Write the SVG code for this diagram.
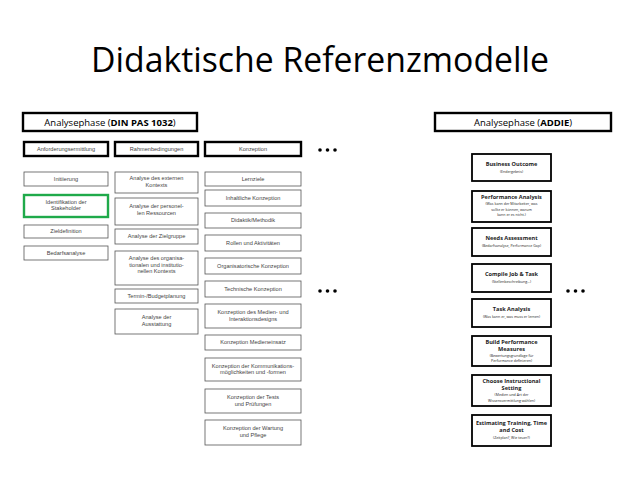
<svg xmlns="http://www.w3.org/2000/svg" width="640" height="480" viewBox="0 0 640 480">
<style>
.bg{fill:#fff}
.hdr{fill:#fff;stroke:#000;stroke-width:2.4}
.box{fill:#fff;stroke:#555;stroke-width:0.8}
.grn{fill:#fff;stroke:#1faa4a;stroke-width:2.4}
.abox{fill:#fff;stroke:#000;stroke-width:1.8}
.t{font-family:"Liberation Sans",Arial,sans-serif;font-size:5.6px;fill:#444;text-anchor:middle}
.h{font-family:"Open Sans","Liberation Sans",sans-serif;font-size:9.5px;fill:#000;text-anchor:middle}
.ab{font-family:"Open Sans","Liberation Sans",sans-serif;font-size:5.6px;font-weight:bold;fill:#222;text-anchor:middle}
.as{font-family:"Open Sans","Liberation Sans",sans-serif;font-size:3.6px;fill:#222;text-anchor:middle}
.dot{fill:#000}
</style>
<rect class="bg" x="0" y="0" width="640" height="480"/>
<text x="320" y="72" font-family="Open Sans, Liberation Sans, sans-serif" font-size="34" fill="#000" text-anchor="middle" textLength="458" lengthAdjust="spacingAndGlyphs">Didaktische Referenzmodelle</text>

<g id="hdr-din"><rect class="hdr" x="23" y="113" width="174" height="18"/><text class="h" x="110" y="125.5">Analysephase (<tspan font-weight="bold">DIN PAS 1032</tspan>)</text></g>
<g id="hdr-addie"><rect class="hdr" x="435" y="113" width="176" height="18"/><text class="h" x="523" y="125.5">Analysephase (<tspan font-weight="bold">ADDIE</tspan>)</text></g>

<g id="c1-head"><rect class="hdr" x="24" y="142" width="84" height="14"/><text class="t" x="66" y="151">Anforderungsermittlung</text></g>
<g id="c2-head"><rect class="hdr" x="115" y="142" width="83" height="14"/><text class="t" x="156.5" y="151">Rahmenbedingungen</text></g>
<g id="c3-head"><rect class="hdr" x="205" y="142" width="96" height="14"/><text class="t" x="253" y="151">Konzeption</text></g>

<g id="c1-1"><rect class="box" x="24" y="172" width="84" height="14"/><text class="t" x="66" y="180.5">Initiierung</text></g>
<g id="c1-2"><rect class="grn" x="24" y="195" width="84" height="22"/><text class="t" x="66" y="203.5">Identifikation der<tspan x="66" dy="6.5">Stakeholder</tspan></text></g>
<g id="c1-3"><rect class="box" x="24" y="225" width="84" height="13"/><text class="t" x="66" y="233">Zieldefinition</text></g>
<g id="c1-4"><rect class="box" x="24" y="246" width="84" height="14"/><text class="t" x="66" y="254.5">Bedarfsanalyse</text></g>

<g id="c2-1"><rect class="box" x="115" y="172" width="83" height="21"/><text class="t" x="156.5" y="180">Analyse des externen<tspan x="156.5" dy="6.5">Kontexts</tspan></text></g>
<g id="c2-2"><rect class="box" x="115" y="198" width="83" height="27"/><text class="t" x="156.5" y="208">Analyse der personel-<tspan x="156.5" dy="6.5">len Ressourcen</tspan></text></g>
<g id="c2-3"><rect class="box" x="115" y="229" width="83" height="15"/><text class="t" x="156.5" y="238">Analyse der Zielgruppe</text></g>
<g id="c2-4"><rect class="box" x="115" y="251" width="83" height="34"/><text class="t" x="156.5" y="260">Analyse des organisa-<tspan x="156.5" dy="6.5">tionalen und institutio-</tspan><tspan x="156.5" dy="6.5">nellen Kontexts</tspan></text></g>
<g id="c2-5"><rect class="box" x="115" y="289" width="83" height="14"/><text class="t" x="156.5" y="297.5">Termin-/Budgetplanung</text></g>
<g id="c2-6"><rect class="box" x="115" y="309" width="83" height="25"/><text class="t" x="156.5" y="319">Analyse der<tspan x="156.5" dy="6.5">Ausstattung</tspan></text></g>

<g id="c3-1"><rect class="box" x="205" y="172" width="96" height="14"/><text class="t" x="253" y="180.5">Lernziele</text></g>
<g id="c3-2"><rect class="box" x="205" y="190" width="96" height="16"/><text class="t" x="253" y="199.5">Inhaltliche Konzeption</text></g>
<g id="c3-3"><rect class="box" x="205" y="213" width="96" height="15"/><text class="t" x="253" y="222">Didaktik/Methodik</text></g>
<g id="c3-4"><rect class="box" x="205" y="235" width="96" height="16"/><text class="t" x="253" y="244.5">Rollen und Aktivitäten</text></g>
<g id="c3-5"><rect class="box" x="205" y="258" width="96" height="16"/><text class="t" x="253" y="267.5">Organisatorische Konzeption</text></g>
<g id="c3-6"><rect class="box" x="205" y="281" width="96" height="16"/><text class="t" x="253" y="290.5">Technische Konzeption</text></g>
<g id="c3-7"><rect class="box" x="205" y="304" width="96" height="24"/><text class="t" x="253" y="314">Konzeption des Medien- und<tspan x="253" dy="6.5">Interaktionsdesigns</tspan></text></g>
<g id="c3-8"><rect class="box" x="205" y="335" width="96" height="15"/><text class="t" x="253" y="344">Konzeption Medieneinsatz</text></g>
<g id="c3-9"><rect class="box" x="205" y="358" width="96" height="23"/><text class="t" x="253" y="367.5">Konzeption der Kommunikations-<tspan x="253" dy="6.5">möglichkeiten und -formen</tspan></text></g>
<g id="c3-10"><rect class="box" x="205" y="389" width="96" height="24"/><text class="t" x="253" y="399">Konzeption der Tests<tspan x="253" dy="6.5">und Prüfungen</tspan></text></g>
<g id="c3-11"><rect class="box" x="205" y="420" width="96" height="25"/><text class="t" x="253" y="430">Konzeption der Wartung<tspan x="253" dy="6.5">und Pflege</tspan></text></g>

<g id="a1"><rect class="abox" x="472" y="154" width="79" height="27"/><text class="ab" x="511.5" y="166">Business Outcome</text><text class="as" x="511.5" y="173">(Endergebnis)</text></g>
<g id="a2"><rect class="abox" x="472" y="191" width="79" height="31"/><text class="ab" x="511.5" y="199">Performance Analysis</text><text class="as" x="511.5" y="205">(Was kann der Mitarbeiter, was</text><text class="as" x="511.5" y="210.5">sollte er können, warum</text><text class="as" x="511.5" y="216">kann er es nicht.)</text></g>
<g id="a3"><rect class="abox" x="472" y="228" width="79" height="28"/><text class="ab" x="511.5" y="240">Needs Assessment</text><text class="as" x="511.5" y="247">(Bedarfsanalyse, Performance Gap)</text></g>
<g id="a4"><rect class="abox" x="472" y="264" width="79" height="28"/><text class="ab" x="511.5" y="276">Compile Job &amp; Task</text><text class="as" x="511.5" y="283">(Stellenbeschreibung...)</text></g>
<g id="a5"><rect class="abox" x="472" y="299" width="79" height="28"/><text class="ab" x="511.5" y="311">Task Analysis</text><text class="as" x="511.5" y="318">(Was kann er, was muss er lernen)</text></g>
<g id="a6"><rect class="abox" x="472" y="336" width="79" height="30"/><text class="ab" x="511.5" y="343.5">Build Performance</text><text class="ab" x="511.5" y="350.5">Measures</text><text class="as" x="511.5" y="356.5">(Bewertungsgrundlage für</text><text class="as" x="511.5" y="361.5">Performance definieren)</text></g>
<g id="a7"><rect class="abox" x="472" y="375" width="79" height="31"/><text class="ab" x="511.5" y="383">Choose Instructional</text><text class="ab" x="511.5" y="390">Setting</text><text class="as" x="511.5" y="396">(Medien und Art der</text><text class="as" x="511.5" y="401.5">Wissensvermittlung wählen)</text></g>
<g id="a8"><rect class="abox" x="472" y="415" width="79" height="31"/><text class="ab" x="511.5" y="425">Estimating Training, Time</text><text class="ab" x="511.5" y="432">and Cost</text><text class="as" x="511.5" y="438.5">(Zeitplan?, Wie teuer?)</text></g>

<g id="dots">
<circle class="dot" cx="320" cy="150" r="1.8"/><circle class="dot" cx="327.5" cy="150" r="1.8"/><circle class="dot" cx="335" cy="150" r="1.8"/>
<circle class="dot" cx="320" cy="291" r="1.8"/><circle class="dot" cx="327.5" cy="291" r="1.8"/><circle class="dot" cx="335" cy="291" r="1.8"/>
<circle class="dot" cx="568" cy="291" r="1.8"/><circle class="dot" cx="575.5" cy="291" r="1.8"/><circle class="dot" cx="583" cy="291" r="1.8"/>
</g>
<g id="connectors"></g>
</svg>
